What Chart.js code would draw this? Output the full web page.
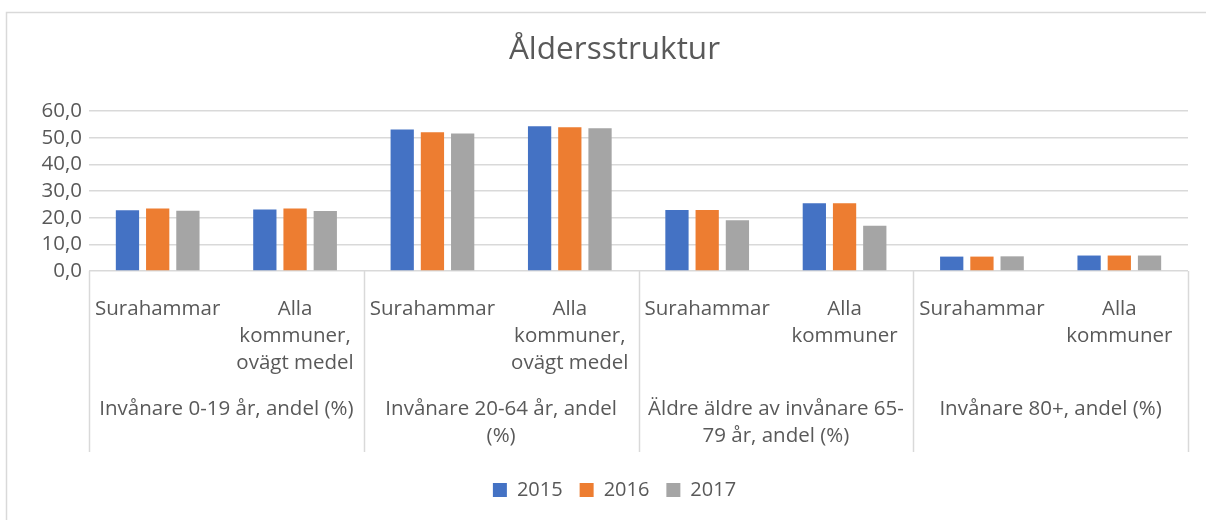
<!DOCTYPE html>
<html>
<head>
<meta charset="utf-8">
<script src="https://cdn.jsdelivr.net/npm/chart.js@4"></script>
<style>
  body { margin: 0; background: #fff; }
  #wrap { width: 1206px; height: 520px; position: relative; }
</style>
</head>
<body>
<div id="wrap"><canvas id="myChart"></canvas></div>
<script>
const categories = [
  "Surahammar", ["Alla", "kommuner,", "ovägt medel"],
  "Surahammar", ["Alla", "kommuner,", "ovägt medel"],
  "Surahammar", ["Alla", "kommuner"],
  "Surahammar", ["Alla", "kommuner"],
];
const groups = [
  ["Invånare 0-19 år, andel (%)"],
  ["Invånare 20-64 år, andel", "(%)"],
  ["Äldre äldre av invånare 65-", "79 år, andel (%)"],
  ["Invånare 80+, andel (%)"],
];
const years = ["2015", "2016", "2017"];
const values2015 = [22.8, 23.1, 53.1, 54.3, 22.9, 25.4, 5.4, 5.8];
const values2016 = [23.4, 23.4, 52.0, 53.9, 22.9, 25.4, 5.4, 5.8];
const values2017 = [22.6, 22.5, 51.6, 53.5, 19.0, 17.0, 5.5, 5.8];
const yTicks = [0, 10, 20, 30, 40, 50, 60];

const textColor = "#595959";
const gridColor = "#d9d9d9";
const fontFamily = "'Open Sans', sans-serif";
const axisFont = 20.5;

// ram runt diagrammet + grupperade kategorier under axeln
const excelAxis = {
  id: "excelAxis",
  afterLayout(chart) {
    // Excel centrerar rubrik och förklaring över hela diagramrutan
    [chart.titleBlock, chart.legend].forEach((box) => {
      if (box) {
        box.left += 17;
        box.right += 17;
      }
    });
  },
  beforeDraw(chart) {
    const ctx = chart.ctx;
    ctx.save();
    ctx.strokeStyle = gridColor;
    ctx.lineWidth = 1.5;
    ctx.strokeRect(6.5, 12.5, 1220, 540);
    ctx.restore();
  },
  afterDraw(chart) {
    const ctx = chart.ctx;
    const x = chart.scales.x;
    const area = chart.chartArea;
    const per = 2;
    const half = (x.getPixelForValue(1) - x.getPixelForValue(0)) / 2;
    ctx.save();
    ctx.strokeStyle = gridColor;
    ctx.lineWidth = 1.5;
    for (let g = 0; g <= groups.length; g++) {
      const px = g < groups.length
        ? x.getPixelForValue(g * per) - half
        : x.getPixelForValue(g * per - 1) + half;
      ctx.beginPath();
      ctx.moveTo(Math.round(px) + 0.5, area.bottom);
      ctx.lineTo(Math.round(px) + 0.5, 452);
      ctx.stroke();
    }
    ctx.fillStyle = textColor;
    ctx.font = axisFont + "px " + fontFamily;
    ctx.textAlign = "center";
    ctx.textBaseline = "middle";
    groups.forEach((lines, g) => {
      const cx = (x.getPixelForValue(g * per) + x.getPixelForValue(g * per + 1)) / 2;
      lines.forEach((t, i) => ctx.fillText(t, cx, 409 + i * 27));
    });
    ctx.restore();
  },
};

const ctx = document.getElementById("myChart").getContext("2d");
const myChart = new Chart(ctx, {
  type: "bar",
  data: {
    labels: categories,
    datasets: [
      { label: years[0], data: values2015, backgroundColor: "#4472C4" },
      { label: years[1], data: values2016, backgroundColor: "#ED7D31" },
      { label: years[2], data: values2017, backgroundColor: "#A5A5A5" },
    ],
  },
  options: {
    responsive: true,
    maintainAspectRatio: false,
    animation: false,
    datasets: {
      bar: { categoryPercentage: 0.66, barPercentage: 0.77 },
    },
    layout: { padding: { top: 13, left: 7, right: 18, bottom: 10 } },
    plugins: {
      title: {
        display: true,
        text: "Åldersstruktur",
        color: textColor,
        font: { family: fontFamily, size: 31.5, weight: "normal", lineHeight: 1.2 },
        padding: { top: 18.6, bottom: 41.6 },
      },
      legend: {
        position: "bottom",
        labels: {
          color: textColor,
          font: { family: fontFamily, size: 20 },
          boxWidth: 14,
          boxHeight: 14,
          padding: 17,
        },
      },
      tooltip: { enabled: false },
    },
    scales: {
      x: {
        grid: { display: false },
        border: { display: false },
        ticks: {
          color: textColor,
          font: { family: fontFamily, size: axisFont, lineHeight: 27 / axisFont },
          autoSkip: false,
          maxRotation: 0,
          minRotation: 0,
          padding: 17,
        },
        afterFit(scale) {
          scale.height = 192;
        },
      },
      y: {
        min: 0,
        max: 60,
        border: { display: false },
        grid: { color: gridColor, lineWidth: 1.5, drawTicks: false },
        afterBuildTicks(scale) {
          scale.ticks = yTicks.map((v) => ({ value: v }));
        },
        ticks: {
          color: textColor,
          font: { family: fontFamily, size: axisFont },
          autoSkip: false,
          padding: 7,
          callback: (v) => v.toFixed(1).replace(".", ","),
        },
        afterFit(scale) {
          scale.width = 82;
        },
      },
    },
  },
  plugins: [excelAxis],
});
</script>
</body>
</html>
